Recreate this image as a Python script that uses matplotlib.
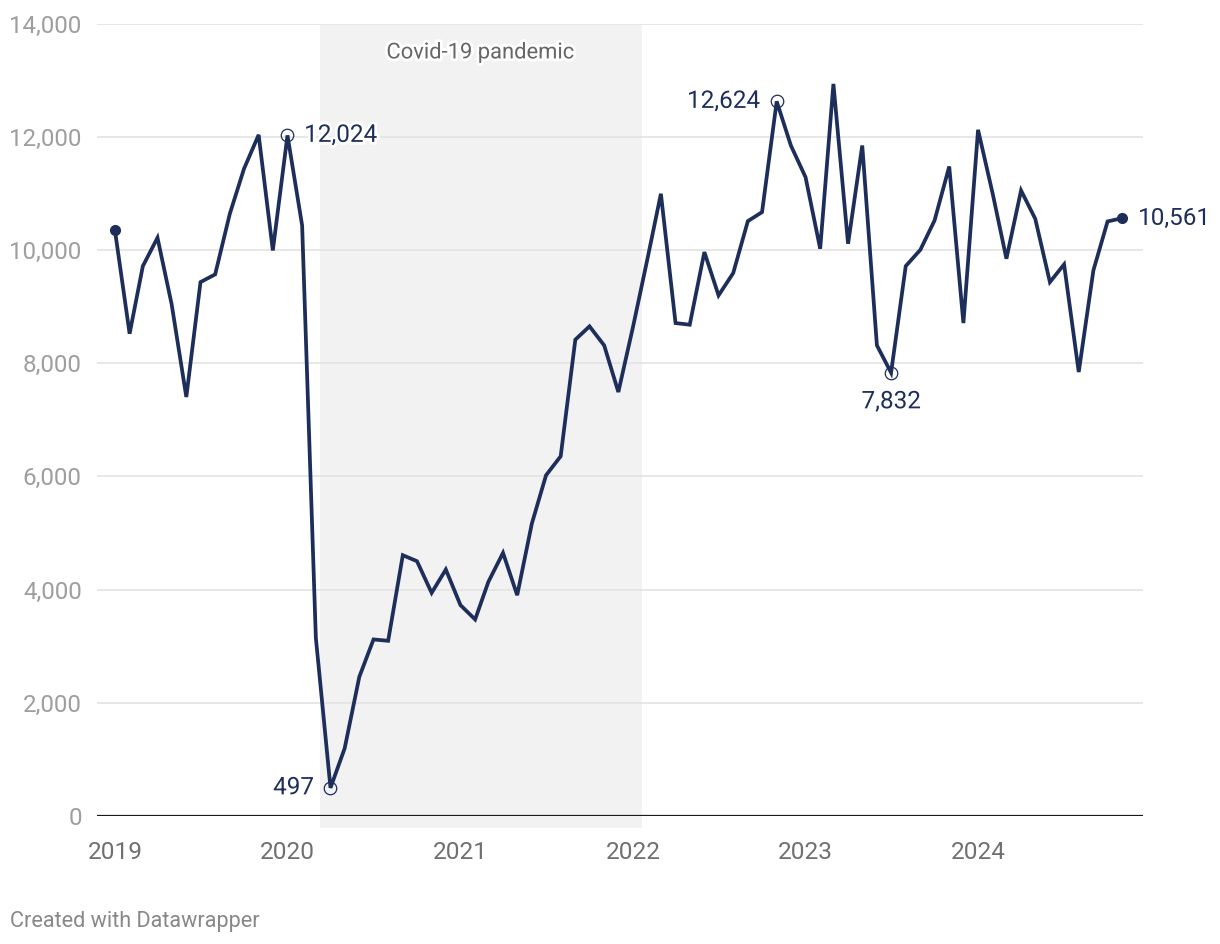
import pandas as pd
import matplotlib
matplotlib.use("Agg")
import matplotlib.pyplot as plt
import matplotlib.dates as mdates
import matplotlib.patheffects as pe
from matplotlib.ticker import FuncFormatter

# Monthly values, Jan 2019 - Nov 2024
months = pd.date_range("2019-01-01", periods=71, freq="MS")
values = [
    10344, 8520, 9714, 10215, 9038, 7402, 9432, 9568, 10638, 11433, 12033, 9991,   # 2019
    12024, 10433, 3150, 497, 1195, 2459, 3119, 3095, 4607, 4501, 3942, 4354,       # 2020
    3725, 3472, 4136, 4648, 3901, 5166, 6019, 6355, 8415, 8650, 8314, 7490,        # 2021
    8640, 9860, 10992, 8708, 8679, 9962, 9197, 9591, 10509, 10668, 12624, 11845,   # 2022
    11286, 10021, 12933, 10109, 11845, 8314, 7832, 9714, 10003, 10521, 11474, 8708,  # 2023
    12122, 10992, 9845, 11050, 10550, 9432, 9744, 7843, 9638, 10503, 10561,        # 2024
]
years = [2019, 2020, 2021, 2022, 2023, 2024]
covid_start = pd.Timestamp("2020-03-09")
covid_end = pd.Timestamp("2022-01-19")

# highlighted points: (month, label, alignment)
highlights = [("2020-01-01", "12,024", "right"),
              ("2020-04-01", "497", "left"),
              ("2022-11-01", "12,624", "left"),
              ("2023-07-01", "7,832", "below")]

navy = "#1d2e5a"
plt.rcParams["font.family"] = ["Roboto", "DejaVu Sans"]

fig = plt.figure(figsize=(12.2, 9.44), dpi=100)
ax = fig.add_axes([0.0795, 0.1356, 0.8574, 0.8395])

s = pd.Series(values, index=months)

ax.axvspan(covid_start, covid_end, ymin=-0.015, ymax=0.9975, color="#f2f2f2",
           zorder=0, clip_on=False, lw=0)
ax.text(covid_start + (covid_end - covid_start) / 2, 13480, "Covid-19 pandemic",
        ha="center", va="center", fontsize=15.8, color="#666666", zorder=3,
        path_effects=[pe.withStroke(linewidth=4, foreground="white")])

ax.plot(s.index, s.values, color=navy, lw=2.7, zorder=4, solid_joinstyle="miter")
ax.plot([s.index[0], s.index[-1]], [s.iloc[0], s.iloc[-1]], "o", color=navy,
        ms=7, zorder=5)

halo = [pe.withStroke(linewidth=4, foreground="white")]
for d, lab, where in highlights:
    d = pd.Timestamp(d)
    v = s[d]
    ax.plot(d, v, "o", ms=9, mfc="none", mec=navy, mew=0.9, zorder=6)
    if where == "right":
        ax.annotate(lab, (d, v), xytext=(12, 0), textcoords="offset points",
                    ha="left", va="center", fontsize=17.5, color=navy, path_effects=halo)
    elif where == "left":
        ax.annotate(lab, (d, v), xytext=(-12, 0), textcoords="offset points",
                    ha="right", va="center", fontsize=17.5, color=navy, path_effects=halo)
    else:
        ax.annotate(lab, (d, v), xytext=(0, -21), textcoords="offset points",
                    ha="center", va="center", fontsize=17.5, color=navy, path_effects=halo)
ax.annotate("10,561", (s.index[-1], s.iloc[-1]), xytext=(11, 0),
            textcoords="offset points", ha="left", va="center", fontsize=17.5,
            color=navy, annotation_clip=False)

ax.set_ylim(0, 14000)
ax.set_xlim(pd.Timestamp("2018-11-24"), pd.Timestamp("2024-12-15"))
ax.set_yticks(range(0, 14001, 2000))
ax.yaxis.set_major_formatter(FuncFormatter(lambda v, p: f"{int(v):,}"))
ax.set_xticks([pd.Timestamp(f"{y}-01-01") for y in years])
ax.xaxis.set_major_formatter(mdates.DateFormatter("%Y"))
ax.tick_params(axis="y", length=0, pad=11, labelsize=17.4, labelcolor="#9e9e9e")
ax.tick_params(axis="x", length=0, pad=18, labelsize=17.6, labelcolor="#707070")
ax.grid(axis="y", color="#e3e3e3", lw=1.2, zorder=1)
ax.set_axisbelow(True)
for sp in ax.spines.values():
    sp.set_visible(False)
ax.axhline(0, color="#1a1a1a", lw=1.6, zorder=3)

fig.text(10 / 1220, 1 - 921 / 944, "Created with Datawrapper", ha="left",
         va="center", fontsize=15.6, color="#888888")

fig.savefig("out.png", dpi=100)
